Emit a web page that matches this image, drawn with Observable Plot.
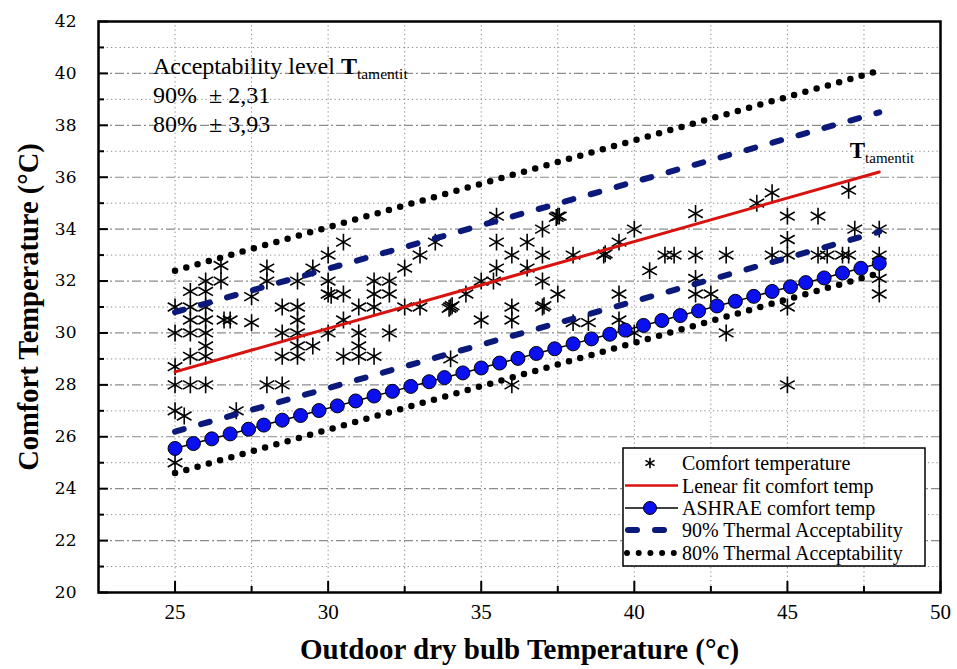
<!DOCTYPE html>
<html>
<head>
<meta charset="utf-8">
<script src="https://cdn.jsdelivr.net/npm/d3@7"></script>
<script src="https://cdn.jsdelivr.net/npm/@observablehq/plot@0.6"></script>
<style>
  html, body { margin: 0; padding: 0; background: #fff; }
  #chart { width: 957px; height: 669px; }
  svg text { white-space: pre; }
</style>
</head>
<body>
<div id="chart"></div>
<script>
// Comfort votes: [outdoor dry bulb temperature °C, comfort temperature °C]
const comfortPoints = [
  [25, 31], [25, 30], [25, 28.7], [25, 28], [25, 27], [25, 25], [25.3, 26.8],
  [25.5, 31.6], [25.5, 31], [25.5, 30.5], [25.5, 30], [25.5, 29.1], [25.5, 28],
  [26, 32], [26, 31.6], [26, 31], [26, 30.5], [26, 30], [26, 29.5], [26, 29.1], [26, 28],
  [26.5, 32.6], [26.5, 32], [26.6, 30.5], [26.8, 30.5],
  [27, 27],
  [27.5, 31.4], [27.5, 30.4],
  [28, 32.5], [28, 32], [28, 28],
  [28.5, 31], [28.5, 30], [28.5, 29.1], [28.5, 28],
  [29, 32], [29, 31], [29, 30.5], [29, 30], [29, 29.5], [29, 29.1],
  [29.5, 32.5], [29.5, 29.5],
  [30, 33], [30, 32], [30, 31.5], [30.1, 31.45], [30, 30],
  [30.5, 33.5], [30.5, 31.5], [30.5, 30.5], [30.5, 29.1],
  [31, 31], [31, 30], [31, 29.5], [31, 29.1],
  [31.5, 32], [31.5, 31.5], [31.5, 31], [31.5, 29.1],
  [32, 32], [32, 31.5], [32, 30],
  [32.5, 32.5], [32.5, 31],
  [33, 33], [33, 31],
  [33.5, 33.5],
  [34, 31], [34.05, 31.05], [33.95, 30.95], [34, 29],
  [34.5, 31.5],
  [35, 32], [35, 30.5], [35.4, 32],
  [35.5, 34.5], [35.5, 33.5], [35.5, 32.5],
  [36, 33], [36, 31], [36, 30.5], [36, 28],
  [36.5, 33.5], [36.5, 32.5],
  [37, 34], [37, 33], [37, 32], [37, 31], [37.05, 31.05],
  [37.5, 34.5], [37.45, 34.45], [37.55, 34.5], [37.5, 31.5],
  [38, 33], [38, 30.4], [38.5, 30.4],
  [39, 33], [39.05, 33.05],
  [39.5, 33.5], [39.5, 31.5], [39.5, 30.5],
  [40, 34], [40, 30],
  [40.5, 32.4],
  [41, 33], [41.3, 33],
  [42, 34.6], [42, 33], [42, 32.1], [42, 31.5], [42.5, 31.5],
  [43, 33], [43, 30],
  [44, 35], [44.5, 35.4], [44.5, 33],
  [45, 34.5], [45, 33.6], [45, 33], [45, 31], [45, 28],
  [46, 34.5], [46, 33], [46.3, 33], [46.8, 33],
  [47, 35.5], [47, 33], [47.2, 34],
  [48, 34], [48, 33], [48, 32.1], [48, 31.5]
];

// Linear fit of the comfort temperature (Tamentit) and its acceptability limits
const fitX = [25, 48];
const fitY = [28.5, 36.2];
const band90Upper = [30.8, 38.5];
const band90Lower = [26.2, 33.9];
const band80Upper = [32.4, 40.1];
const band80Lower = [24.6, 32.3];

// ASHRAE adaptive comfort temperature
const ashraeX = [25.0, 25.6, 26.2, 26.8, 27.4, 27.9, 28.5, 29.1, 29.7, 30.3,
                 30.9, 31.5, 32.1, 32.7, 33.3, 33.8, 34.4, 35.0, 35.6, 36.2,
                 36.8, 37.4, 38.0, 38.6, 39.2, 39.7, 40.3, 40.9, 41.5, 42.1,
                 42.7, 43.3, 43.9, 44.5, 45.1, 45.6, 46.2, 46.8, 47.4, 48.0];
const ashraeY = [25.55, 25.74, 25.92, 26.11, 26.29, 26.45, 26.64, 26.82, 27.01, 27.19,
                 27.38, 27.57, 27.75, 27.94, 28.12, 28.28, 28.46, 28.65, 28.84, 29.02,
                 29.21, 29.39, 29.58, 29.77, 29.95, 30.11, 30.29, 30.48, 30.67, 30.85,
                 31.04, 31.22, 31.41, 31.60, 31.78, 31.94, 32.12, 32.31, 32.49, 32.68];

// Axis ticks
const xTicks = [25, 30, 35, 40, 45, 50];
const xMinorTicks = [27.5, 32.5, 37.5, 42.5, 47.5];
const yTicks = [20, 22, 24, 26, 28, 30, 32, 34, 36, 38, 40, 42];
const yMinorTicks = [21, 23, 25, 27, 29, 31, 33, 35, 37, 39, 41];

// Texts
const xTitle = "Outdoor dry bulb Temperature (°c)";
const yTitle = "Comfort Temperature (°C)";
const levelTitle = "Acceptability level ";
const levelRows = ["90%  ± 2,31", "80%  ± 3,93"];
const fitName = "T";
const fitSub = "tamentit";
const legendLabels = [
  "Comfort temperature",
  "Lenear fit comfort temp",
  "ASHRAE comfort temp",
  "90% Thermal Acceptability",
  "80% Thermal Acceptability"
];

const W = 957, H = 669;
const M = {top: 21, right: 17, bottom: 77, left: 98};
const innerW = W - M.left - M.right;
const innerH = H - M.top - M.bottom;
const serif = "'Liberation Serif', 'Times New Roman', serif";
const gridGray = "#8c8c8c";
const navy = "#0b1a7a";
const red = "#d8130f";
const blue = "#0a10ee";

const rows = (xs, ys) => xs.map((x, i) => ({x, y: ys[i]}));
const dashed = {stroke: navy, strokeWidth: 6, strokeDasharray: "9 18", strokeLinecap: "round"};
const dotted = {stroke: "black", strokeWidth: 6.5, strokeDasharray: "0 11.7", strokeLinecap: "round"};

const chart = Plot.plot({
  width: W,
  height: H,
  marginTop: M.top,
  marginRight: M.right,
  marginBottom: M.bottom,
  marginLeft: M.left,
  x: {domain: [22.5, 50]},
  y: {domain: [20, 42]},
  style: {background: "white", color: "black", fontFamily: serif},
  marks: [
    // grid
    Plot.ruleX([25, 27.5, 30, 32.5, 35, 37.5, 40, 42.5, 45, 47.5], {stroke: gridGray, strokeWidth: 1, strokeDasharray: "1.3 3"}),
    Plot.ruleY(yTicks.filter(v => v > 20 && v < 42), {stroke: gridGray, strokeWidth: 1.2, strokeDasharray: "9 3 2 3"}),
    Plot.ruleY(yMinorTicks, {stroke: gridGray, strokeWidth: 1, strokeDasharray: "1.3 3"}),

    // comfort votes
    Plot.dot(comfortPoints, {x: d => d[0], y: d => d[1], symbol: "asterisk", r: 8, stroke: "black", strokeWidth: 1.6}),

    // linear fit
    Plot.line(rows(fitX, fitY), {x: "x", y: "y", stroke: red, strokeWidth: 3}),

    // ASHRAE comfort temperature
    Plot.line(rows(ashraeX, ashraeY), {x: "x", y: "y", stroke: "black", strokeWidth: 1.5}),
    Plot.dot(rows(ashraeX, ashraeY), {x: "x", y: "y", r: 7, fill: blue, stroke: "black", strokeWidth: 1}),

    // 90 % and 80 % acceptability limits
    Plot.line(rows(fitX, band90Upper), {x: "x", y: "y", ...dashed}),
    Plot.line(rows(fitX, band90Lower), {x: "x", y: "y", ...dashed}),
    Plot.line(rows(fitX, band80Upper), {x: "x", y: "y", ...dotted}),
    Plot.line(rows(fitX, band80Lower), {x: "x", y: "y", ...dotted}),

    // inward ticks
    Plot.tickX(xTicks, {x: d => d, insetTop: innerH - 11, stroke: "black", strokeWidth: 2}),
    Plot.tickX(xMinorTicks, {x: d => d, insetTop: innerH - 6, stroke: "black", strokeWidth: 2}),
    Plot.tickY(yTicks, {y: d => d, insetRight: innerW - 10, stroke: "black", strokeWidth: 2}),
    Plot.tickY(yMinorTicks, {y: d => d, insetRight: innerW - 6, stroke: "black", strokeWidth: 2}),

    Plot.frame({stroke: "black", strokeWidth: 2.5}),

    Plot.axisX({ticks: xTicks, tickSize: 0, tickPadding: 12, fontSize: 21, fontFamily: serif, label: null}),
    Plot.axisY({ticks: yTicks, tickSize: 0, tickPadding: 22, fontSize: 17, fontFamily: "'DejaVu Serif', serif", label: null}),

    Plot.text([xTitle], {text: d => d, frameAnchor: "bottom", lineAnchor: "middle", textAnchor: "middle", dy: 57,
      fontSize: 29, fontWeight: "bold", fontFamily: serif, fill: "black", letterSpacing: 2.5}),
    Plot.text([yTitle], {text: d => d, frameAnchor: "left", textAnchor: "middle", lineAnchor: "middle", dx: -70, rotate: -90,
      fontSize: 28.5, fontWeight: "bold", fontFamily: serif, fill: "black"})
  ]
});

document.getElementById("chart").appendChild(chart);

const xs = chart.scale("x");
const ys = chart.scale("y");
const svg = d3.select(chart);

// acceptability note, top left
const note = svg.append("g").attr("font-family", serif).attr("fill", "black").attr("text-anchor", "start");
const t1 = note.append("text").attr("x", M.left + 55).attr("y", M.top + 53).attr("font-size", 24);
t1.append("tspan").text(levelTitle);
t1.append("tspan").attr("font-weight", "bold").text(fitName);
t1.append("tspan").attr("font-size", 15.5).attr("dy", 5).text(fitSub);
levelRows.forEach((r, i) => {
  note.append("text").attr("x", M.left + 55).attr("y", M.top + 82 + i * 28.5).attr("font-size", 24).text(r);
});

// label at the end of the fit line
const fx = xs.apply(fitX[1]);
const fy = ys.apply(fitY[1]);
const t2 = svg.append("text").attr("font-family", serif).attr("fill", "black").attr("text-anchor", "start")
  .attr("x", fx - 29).attr("y", fy - 14).attr("font-size", 23);
t2.append("tspan").attr("font-weight", "bold").text(fitName);
t2.append("tspan").attr("font-size", 15).attr("dy", 5).text(fitSub);

// legend
const bw = 302, bh = 118;
const lx = W - M.right - 15 - bw;
const ly = H - M.bottom - 26 - bh;
const lg = svg.append("g").attr("transform", `translate(${lx},${ly})`).attr("text-anchor", "start");
lg.append("rect").attr("width", bw).attr("height", bh).attr("fill", "white").attr("stroke", "black").attr("stroke-width", 1.5);
const rowY = [15, 37.5, 60, 82, 105];
lg.append("path").attr("transform", `translate(27,${rowY[0]})`)
  .attr("d", d3.symbol(d3.symbolAsterisk, Math.PI * 25)()).attr("fill", "none").attr("stroke", "black").attr("stroke-width", 1.6);
lg.append("line").attr("x1", 2).attr("x2", 55).attr("y1", rowY[1]).attr("y2", rowY[1]).attr("stroke", red).attr("stroke-width", 2.5);
lg.append("line").attr("x1", 2).attr("x2", 55).attr("y1", rowY[2]).attr("y2", rowY[2]).attr("stroke", "black").attr("stroke-width", 1.5);
lg.append("circle").attr("cx", 27).attr("cy", rowY[2]).attr("r", 6.5).attr("fill", blue).attr("stroke", "black");
lg.append("line").attr("x1", 5).attr("x2", 55).attr("y1", rowY[3]).attr("y2", rowY[3])
  .attr("stroke", navy).attr("stroke-width", 6).attr("stroke-dasharray", "9 18").attr("stroke-linecap", "round");
lg.append("line").attr("x1", 4).attr("x2", 55).attr("y1", rowY[4]).attr("y2", rowY[4])
  .attr("stroke", "black").attr("stroke-width", 6).attr("stroke-dasharray", "0 11.7").attr("stroke-linecap", "round");
lg.selectAll("text.lab").data(legendLabels).join("text").attr("class", "lab")
  .attr("x", 59).attr("y", (d, i) => rowY[i]).attr("dy", "0.35em")
  .attr("font-family", serif).attr("font-size", 20).attr("fill", "black").text(d => d);
</script>
</body>
</html>
